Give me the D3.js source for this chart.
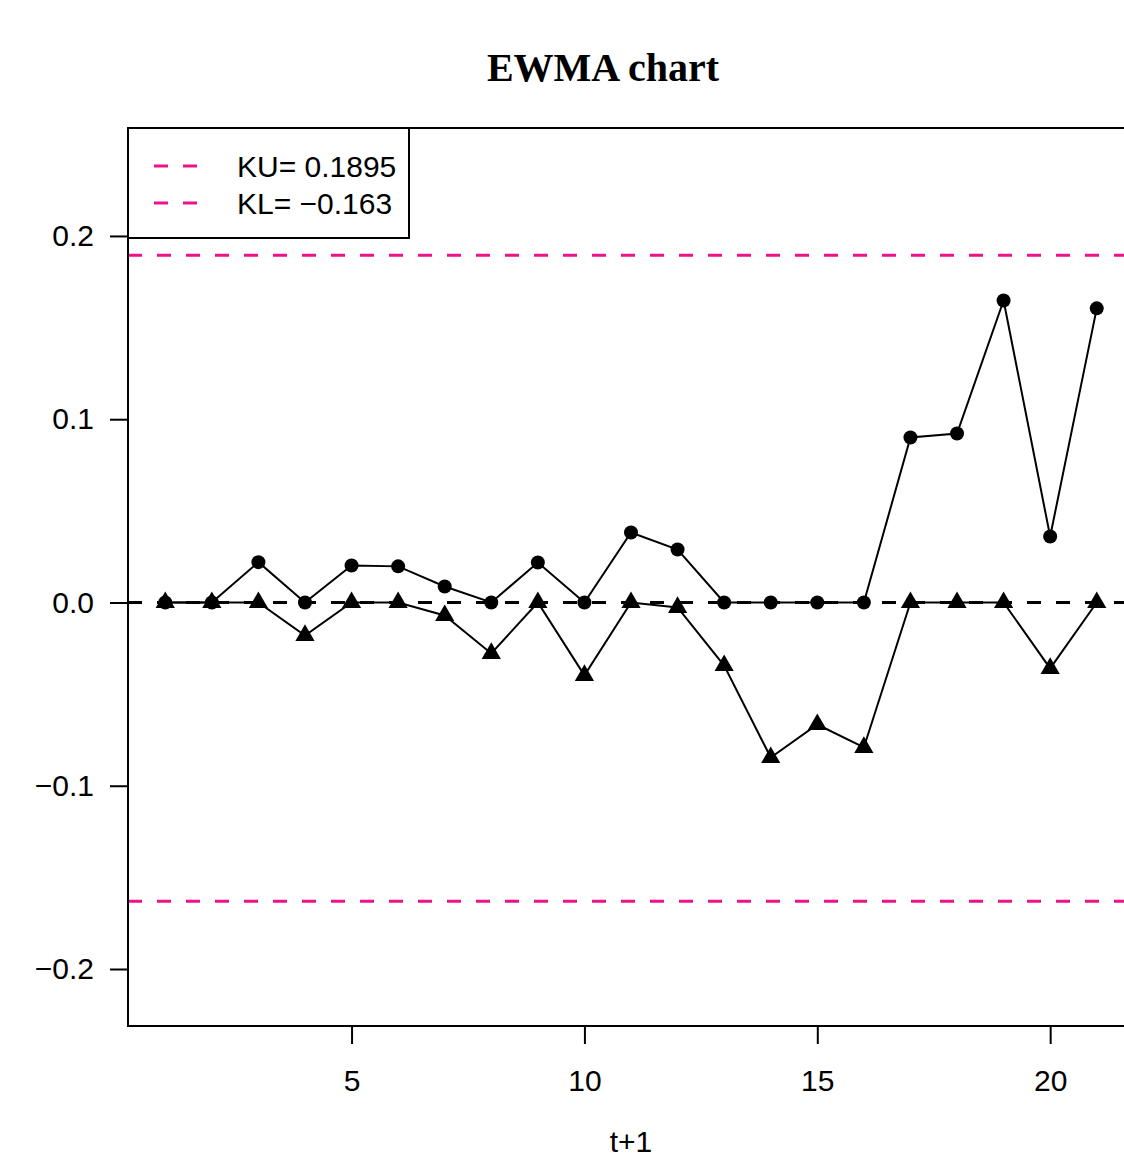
<!DOCTYPE html>
<html lang="en">
<head>
<meta charset="UTF-8">
<title>EWMA chart</title>
<script src="https://d3js.org/d3.v7.min.js"></script>
<style>
  body { margin: 0; background: #fff; overflow: hidden; }
  svg text { font-family: "Liberation Sans", Arial, sans-serif; fill: #000; }
  .title { font-family: "Liberation Serif", "Times New Roman", serif; font-weight: bold; }
</style>
</head>
<body>
<div id="chart"></div>
<script>
// data
const steps = d3.range(1, 22);
const upper = [0, 0, 0.022, 0, 0.0202, 0.0197, 0.0087, 0, 0.0218, 0, 0.0382, 0.0289,
               0, 0, 0, 0, 0.090, 0.0922, 0.1648, 0.036, 0.1605];
const lower = [0, 0, 0, -0.018, 0, 0, -0.0071, -0.0278, 0, -0.0398, 0, -0.0027,
               -0.0344, -0.0846, -0.0666, -0.0791, 0, 0, 0, -0.036, 0];
const KU = 0.1895, KL = -0.163;
const xTicks = [5, 10, 15, 20];
const yTicks = [-0.2, -0.1, 0.0, 0.1, 0.2];
const pink = "#EE1289";

const width = 1124, height = 1161;
const plot = { left: 128, right: 1134, top: 128, bottom: 1026 };
const fs = "30px";

const svg = d3.select("#chart").append("svg")
  .attr("width", width).attr("height", height);

const x = d3.scaleLinear().domain([0.2, 21.8]).range([plot.left, plot.right]);
const y = d3.scaleLinear().domain([-0.2311, 0.2589]).range([plot.bottom, plot.top]);

// title
svg.append("text").attr("class", "title")
  .attr("x", 603).attr("y", 81)
  .attr("text-anchor", "middle").style("font-size", "40px")
  .text("EWMA chart");

// axes
const yAxis = svg.append("g")
  .attr("transform", `translate(${plot.left},0)`)
  .call(d3.axisLeft(y).tickValues(yTicks).tickSize(18).tickPadding(16)
    .tickFormat(d => d3.format(".1f")(d).replace("-", "\u2212")));
const xAxis = svg.append("g")
  .attr("transform", `translate(0,${plot.bottom})`)
  .call(d3.axisBottom(x).tickValues(xTicks).tickSize(18).tickPadding(26));
[xAxis, yAxis].forEach(a => {
  a.select(".domain").remove();
  a.selectAll("line").attr("stroke", "#000").attr("stroke-width", 2);
  a.selectAll("text").style("font-size", fs).attr("fill", "#000");
});

svg.append("text")
  .attr("x", (plot.left + plot.right) / 2).attr("y", 1152)
  .attr("text-anchor", "middle").style("font-size", fs)
  .text("t+1");

// limit lines
[KU, KL].forEach(v => {
  svg.append("line")
    .attr("x1", plot.left).attr("x2", plot.right)
    .attr("y1", y(v)).attr("y2", y(v))
    .attr("stroke", pink).attr("stroke-width", 3)
    .attr("stroke-dasharray", "14,15");
});
svg.append("line")
  .attr("x1", plot.left).attr("x2", plot.right)
  .attr("y1", y(0)).attr("y2", y(0))
  .attr("stroke", "#000").attr("stroke-width", 3)
  .attr("stroke-dasharray", "14,15");

// series
const line = d3.line().x((d, i) => x(steps[i])).y(d => y(d));
svg.append("path").datum(upper).attr("d", line)
  .attr("fill", "none").attr("stroke", "#000").attr("stroke-width", 2);
svg.append("path").datum(lower).attr("d", line)
  .attr("fill", "none").attr("stroke", "#000").attr("stroke-width", 2);

svg.selectAll(".pt-up").data(upper).enter().append("circle")
  .attr("class", "pt-up")
  .attr("cx", (d, i) => x(steps[i])).attr("cy", d => y(d))
  .attr("r", 7).attr("fill", "#000");

const tri = d3.symbol().type(d3.symbolTriangle).size(160);
svg.selectAll(".pt-lo").data(lower).enter().append("path")
  .attr("class", "pt-lo")
  .attr("transform", (d, i) => `translate(${x(steps[i])},${y(d)})`)
  .attr("d", tri).attr("fill", "#000");

// box
svg.append("rect")
  .attr("x", plot.left).attr("y", plot.top)
  .attr("width", plot.right - plot.left).attr("height", plot.bottom - plot.top)
  .attr("fill", "none").attr("stroke", "#000").attr("stroke-width", 2);

// legend
const legend = svg.append("g");
legend.append("rect")
  .attr("x", plot.left).attr("y", plot.top)
  .attr("width", 281).attr("height", 110)
  .attr("fill", "#fff").attr("stroke", "#000").attr("stroke-width", 2);
const legendItems = ["KU= " + KU, "KL= \u2212" + Math.abs(KL)];
legendItems.forEach((lab, i) => {
  const ly = 166 + i * 37;
  legend.append("line")
    .attr("x1", 154).attr("x2", 200).attr("y1", ly).attr("y2", ly)
    .attr("stroke", pink).attr("stroke-width", 3)
    .attr("stroke-dasharray", "14,15");
  legend.append("text")
    .attr("x", 237).attr("y", ly).attr("dy", "0.36em")
    .style("font-size", fs).text(lab);
});
</script>
</body>
</html>
